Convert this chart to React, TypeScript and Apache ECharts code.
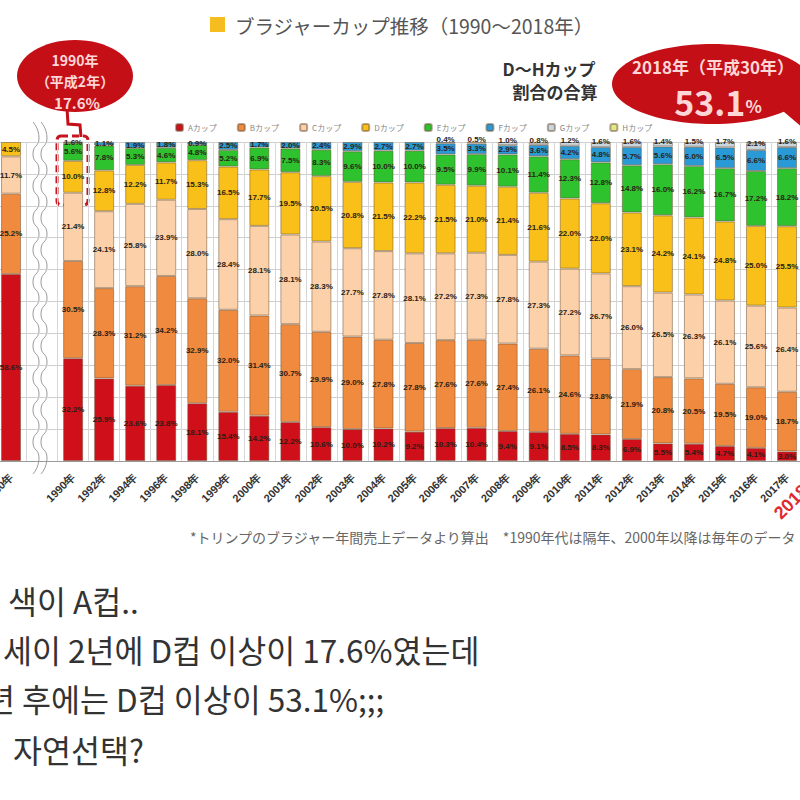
import React, { useEffect, useRef } from 'react';
import * as echarts from 'echarts';

const years = [
  '1980年', '', '1990年', '1992年', '1994年', '1996年', '1998年', '1999年',
  '2000年', '2001年', '2002年', '2003年', '2004年', '2005年', '2006年', '2007年',
  '2008年', '2009年', '2010年', '2011年', '2012年', '2013年', '2014年', '2015年',
  '2016年', '2017年', '2018年',
];

const cupA = [58.6, null, 32.2, 25.9, 23.6, 23.8, 18.1, 15.4, 14.2, 12.2, 10.6, 10.0, 10.2, 9.2, 10.3, 10.4, 9.4, 9.1, 8.5, 8.3, 6.9, 5.5, 5.4, 4.7, 4.1, 3.0, null];
const cupB = [25.2, null, 30.5, 28.3, 31.2, 34.2, 32.9, 32.0, 31.4, 30.7, 29.9, 29.0, 27.8, 27.8, 27.6, 27.6, 27.4, 26.1, 24.6, 23.8, 21.9, 20.8, 20.5, 19.5, 19.0, 18.7, null];
const cupC = [11.7, null, 21.4, 24.1, 25.8, 23.9, 28.0, 28.4, 28.1, 28.1, 28.3, 27.7, 27.8, 28.1, 27.2, 27.3, 27.8, 27.3, 27.2, 26.7, 26.0, 26.5, 26.3, 26.1, 25.6, 26.4, null];
const cupD = [4.5, null, 10.0, 12.8, 12.2, 11.7, 15.3, 16.5, 17.7, 19.5, 20.5, 20.8, 21.5, 22.2, 21.5, 21.0, 21.4, 21.6, 22.0, 22.0, 23.1, 24.2, 24.1, 24.8, 25.0, 25.5, null];
const cupE = [null, null, 5.6, 7.8, 5.3, 4.6, 4.8, 5.2, 6.9, 7.5, 8.3, 9.6, 10.0, 10.0, 9.5, 9.9, 10.1, 11.4, 12.3, 12.8, 14.8, 16.0, 16.2, 16.7, 17.2, 18.2, null];
const cupF = [null, null, 1.6, 1.1, 1.9, 1.8, 0.9, 2.5, 1.7, 2.0, 2.4, 2.9, 2.7, 2.7, 3.5, 3.3, 2.9, 3.6, 4.2, 4.8, 5.7, 5.6, 6.0, 6.5, 6.6, 6.6, null];
const cupG = [null, null, null, null, null, null, null, null, null, null, null, null, null, null, 0.4, 0.5, 1.0, 0.8, 1.2, 1.6, 1.6, 1.4, 1.5, 1.7, 2.1, 1.6, null];
const cupH = [null, null, null, null, null, null, null, null, null, null, null, null, null, null, null, null, null, null, null, null, null, null, null, null, 0.4, null, null];

const cupNames = ['Aカップ', 'Bカップ', 'Cカップ', 'Dカップ', 'Eカップ', 'Fカップ', 'Gカップ', 'Hカップ'];
const cupColors = ['#cf101b', '#ef8a3e', '#fcd0a9', '#f8c019', '#2ec22f', '#2a9ad6', '#c9d6df', '#e2e889'];
const cupData = [cupA, cupB, cupC, cupD, cupE, cupF, cupG, cupH];

const titleText = 'ブラジャーカップ推移（1990〜2018年）';
const footText = '*トリンプのブラジャー年間売上データより算出　*1990年代は隔年、2000年以降は毎年のデータ';
const koreanLines = ['색이 A컵..', '세이 2년에 D컵 이상이 17.6%였는데', '년 후에는 D컵 이상이 53.1%;;;', '자연선택?'];

const JP = '"Noto Sans CJK JP", sans-serif';
const KR = '"Noto Sans CJK KR", sans-serif';
const LAB = '"Liberation Sans", Arial, sans-serif';

function wave(x0: number, y0: number, y1: number) {
  const pts: number[][] = [];
  let k = 0;
  for (let y = y0; y <= y1; y += 16) {
    pts.push([x0 + (k % 2 === 0 ? -3 : 3), y]);
    k++;
  }
  return pts;
}

export default function App() {
  const ref = useRef<HTMLDivElement>(null);
  useEffect(() => {
    const chart = echarts.init(ref.current!, null, { renderer: 'svg' });
    const series = cupNames.map((name, i) => ({
      name,
      type: 'bar',
      stack: 'total',
      barWidth: 20,
      data: cupData[i],
      itemStyle: { color: cupColors[i], borderColor: 'rgba(110,80,50,0.5)', borderWidth: 1 },
      label: {
        show: i !== 7,
        position: 'inside',
        offset: i === 6 ? [0, -3] : [0, 0],
        fontSize: 8,
        fontWeight: 'bold',
        fontFamily: LAB,
        color: '#2b1d14',
        formatter: (p: any) => (p.value == null ? '' : Number(p.value).toFixed(1) + '%'),
      },
    }));
    const red = '#c40f17';
    const pink = '#ffd6d6';
    const centered = { align: 'center', verticalAlign: 'middle', textAlign: 'center', textVerticalAlign: 'middle' };
    chart.setOption({
      animation: false,
      backgroundColor: '#ffffff',
      textStyle: { fontFamily: JP },
      legend: {
        data: cupNames,
        left: 175,
        top: 123,
        padding: 0,
        itemWidth: 7,
        itemHeight: 7,
        itemGap: 20,
        textStyle: { fontSize: 8, color: '#888', fontFamily: JP },
      },
      grid: { left: -4.5, right: -33.6, top: 142, bottom: 339, containLabel: false, outerBoundsMode: 'none' },
      xAxis: {
        type: 'category',
        data: years,
        axisTick: { show: false },
        axisLine: { lineStyle: { color: '#9a9a9a' } },
        splitLine: { show: true, interval: 0, lineStyle: { color: '#d6d6d6' } },
        axisLabel: {
          interval: 0,
          rotate: 45,
          margin: 14,
          fontSize: 11,
          fontWeight: 'bold',
          color: '#333',
          fontFamily: LAB,
          hideOverlap: false,
          formatter: (v: string) => (v === '2018年' ? `{r|${v}}` : v),
          rich: { r: { color: '#e02a30', fontSize: 18, fontWeight: 'bold', fontFamily: LAB } },
        },
      },
      yAxis: {
        type: 'value',
        min: 0,
        max: 100,
        interval: 10,
        axisLabel: { show: false },
        axisLine: { show: false },
        axisTick: { show: false },
        splitLine: { lineStyle: { color: '#cfcfcf' } },
      },
      series,
      graphic: [
        { type: 'rect', shape: { x: 210, y: 17, width: 15, height: 15 }, style: { fill: '#f5bd1f' } },
        { type: 'text', x: 235, y: 25, style: { text: titleText, fontSize: 19.5, fontFamily: JP, fill: '#555', verticalAlign: 'middle', textVerticalAlign: 'middle' } },
        // left callout
        { type: 'ellipse', shape: { cx: 75, cy: 76, rx: 58, ry: 36 }, style: { fill: red } },
        { type: 'polyline', shape: { points: [[67, 108], [68, 124], [80, 125], [81, 137]] }, style: { stroke: red, lineWidth: 3, fill: null } },
        { type: 'text', x: 75, y: 60, style: { text: '1990年', fontSize: 14, fontWeight: 'bold', fontFamily: JP, fill: pink, lineHeight: 16, ...centered } },
        { type: 'text', x: 75, y: 81, style: { text: '（平成2年）', fontSize: 14, fontWeight: 'bold', fontFamily: JP, fill: pink, lineHeight: 16, ...centered } },
        { type: 'text', x: 77, y: 102, style: { text: '17.6%', fontSize: 15, fontWeight: 'bold', fontFamily: JP, fill: pink, lineHeight: 17, ...centered } },
        { type: 'rect', shape: { x: 57, y: 136, width: 31, height: 69, r: 4 }, style: { fill: null, stroke: '#c8141e', lineWidth: 3, lineDash: [7, 4] } },
        // break wave
        { type: 'polyline', shape: { points: wave(36, 122, 476), smooth: 0.6 }, style: { stroke: '#9a9a9a', lineWidth: 1, fill: null } },
        { type: 'polyline', shape: { points: wave(44, 122, 476), smooth: 0.6 }, style: { stroke: '#9a9a9a', lineWidth: 1, fill: null } },
        // right callout
        { type: 'ellipse', shape: { cx: 712, cy: 84, rx: 100, ry: 40 }, style: { fill: red } },
        { type: 'polygon', shape: { points: [[770, 100], [803, 128], [800, 80]] }, style: { fill: red } },
        { type: 'text', x: 713, y: 66, style: { text: '2018年（平成30年）', fontSize: 17, fontWeight: 'bold', fontFamily: JP, fill: pink, lineHeight: 18, ...centered } },
        {
          type: 'text', x: 718, y: 101,
          style: {
            text: '{b|53.1}{s|%}', ...centered, fill: pink,
            rich: {
              b: { fontSize: 34, fontWeight: 'bold', fontFamily: JP, fill: pink, color: pink, lineHeight: 30 },
              s: { fontSize: 17, fontWeight: 'bold', fontFamily: JP, fill: pink, color: pink, lineHeight: 30, padding: [8, 0, 0, 0] },
            },
          },
        },
        { type: 'text', x: 549, y: 68, style: { text: 'D〜Hカップ', fontSize: 17, fontWeight: 'bold', fontFamily: JP, fill: '#333', ...centered } },
        { type: 'text', x: 555, y: 91, style: { text: '割合の合算', fontSize: 17, fontWeight: 'bold', fontFamily: JP, fill: '#333', ...centered } },
        // footnote
        { type: 'text', x: 190, y: 537, style: { text: footText, fontSize: 14, fontFamily: JP, fill: '#666', verticalAlign: 'middle', textVerticalAlign: 'middle' } },
        // Korean comment lines
        { type: 'text', x: 8, y: 600, style: { text: koreanLines[0], fontSize: 31.5, fontFamily: KR, fill: '#333', verticalAlign: 'middle', textVerticalAlign: 'middle' } },
        { type: 'text', x: 3, y: 649, style: { text: koreanLines[1], fontSize: 31.5, fontFamily: KR, fill: '#333', verticalAlign: 'middle', textVerticalAlign: 'middle' } },
        { type: 'text', x: -14, y: 698, style: { text: koreanLines[2], fontSize: 31.5, fontFamily: KR, fill: '#333', verticalAlign: 'middle', textVerticalAlign: 'middle' } },
        { type: 'text', x: 13, y: 749, style: { text: koreanLines[3], fontSize: 31.5, fontFamily: KR, fill: '#333', verticalAlign: 'middle', textVerticalAlign: 'middle' } },
      ],
    });
    return () => chart.dispose();
  }, []);
  return <div ref={ref} style={{ position: 'absolute', left: 0, top: 0, width: 800, height: 800, background: '#fff' }} />;
}
